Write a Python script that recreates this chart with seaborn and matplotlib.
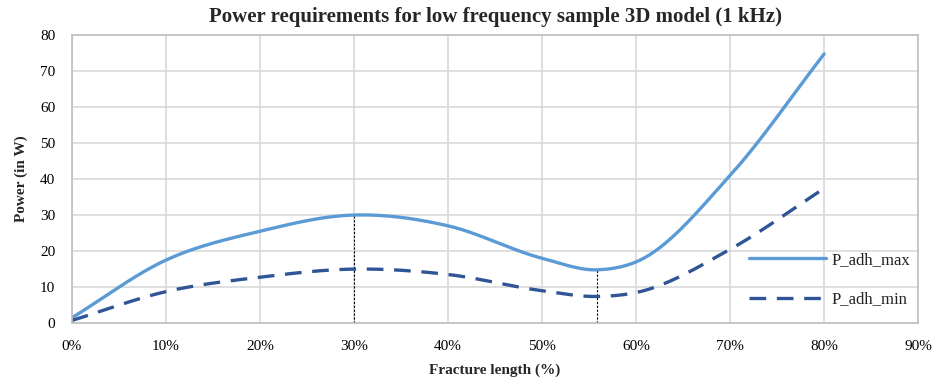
import numpy as np
import pandas as pd
import matplotlib
matplotlib.use("Agg")
import matplotlib.pyplot as plt
import seaborn as sns

fracture = [0, 10, 20, 30, 40, 50, 55.85, 60, 70, 80]
p_adh_max = [1.5, 17.5, 25.5, 30.0, 27.0, 18.0, 14.8, 17.0, 41.0, 74.7]
p_adh_min = [0.75, 8.75, 12.75, 15.0, 13.5, 9.0, 7.4, 8.5, 20.5, 37.4]
markers_x = [30, 55.85]
x_ticks = [0, 10, 20, 30, 40, 50, 60, 70, 80, 90]
y_ticks = [0, 10, 20, 30, 40, 50, 60, 70, 80]


def smooth(xs, ys, n=40):
    # cubic Hermite with Bessel (parabolic) tangents -> smoothed line
    xs = np.asarray(xs, float)
    ys = np.asarray(ys, float)
    h = np.diff(xs)
    d = np.diff(ys) / h
    m = np.zeros_like(ys)
    for i in range(1, len(xs) - 1):
        m[i] = (h[i] * d[i - 1] + h[i - 1] * d[i]) / (h[i - 1] + h[i])
    m[0] = d[0]
    m[-1] = d[-1]
    ox, oy = [], []
    for i in range(len(xs) - 1):
        t = np.linspace(0, 1, n, endpoint=(i == len(xs) - 2))
        h00 = 2 * t ** 3 - 3 * t ** 2 + 1
        h10 = t ** 3 - 2 * t ** 2 + t
        h01 = -2 * t ** 3 + 3 * t ** 2
        h11 = t ** 3 - t ** 2
        yy = h00 * ys[i] + h10 * h[i] * m[i] + h01 * ys[i + 1] + h11 * h[i] * m[i + 1]
        ox.extend(xs[i] + t * h[i])
        oy.extend(yy)
    return np.array(ox), np.array(oy)


sns.set_theme(style="whitegrid")
plt.rcParams["font.family"] = ["Liberation Serif", "DejaVu Serif"]

fig = plt.figure(figsize=(9.35, 3.87), dpi=100)
ax = fig.add_axes([0.077, 0.165, 0.905, 0.745])

sx, sy = smooth(fracture, p_adh_max)
df_max = pd.DataFrame({"x": sx, "y": sy})
sx2, sy2 = smooth(fracture, p_adh_min)
df_min = pd.DataFrame({"x": sx2, "y": sy2})

sns.lineplot(data=df_max, x="x", y="y", ax=ax, color="#5b9bd5", linewidth=2.4,
             label="P_adh_max", sort=False, estimator=None)
sns.lineplot(data=df_min, x="x", y="y", ax=ax, color="#2f5597", linewidth=2.4,
             label="P_adh_min", sort=False, estimator=None)
ax.lines[1].set_dashes([5, 3.2])

for mx in markers_x:
    my = float(np.interp(mx, sx, sy))
    ax.vlines(mx, 0, my, colors="black", linestyles=(0, (2, 1.5)), linewidth=0.8, zorder=1)

ax.set_xlim(0, 90)
ax.set_ylim(0, 80)
ax.set_xticks(x_ticks)
ax.set_xticklabels([f"{v}%" for v in x_ticks])
ax.set_yticks(y_ticks)
ax.tick_params(axis="x", labelsize=11, length=0, pad=12, colors="black")
ax.tick_params(axis="y", labelsize=11, length=0, pad=12, colors="black")
ax.grid(True, color="#d9d9d9", linewidth=1.2)
for s in ax.spines.values():
    s.set_color("#bfbfbf")
    s.set_linewidth(1.2)

ax.set_xlabel("Fracture length (%)", fontsize=11, fontweight="bold", labelpad=8)
ax.set_ylabel("Power (in W)", fontsize=11, fontweight="bold", labelpad=9)
ax.set_title("Power requirements for low frequency sample 3D model (1 kHz)",
             fontsize=15, fontweight="bold", pad=9)

leg = ax.legend(loc="center right", bbox_to_anchor=(1.0, 0.15), frameon=False,
                fontsize=12, handlelength=4.6, handletextpad=0.3, labelspacing=1.4,
                borderaxespad=0.1)
for t in leg.get_texts():
    t.set_color("#222222")

fig.savefig("out.png", dpi=100)
